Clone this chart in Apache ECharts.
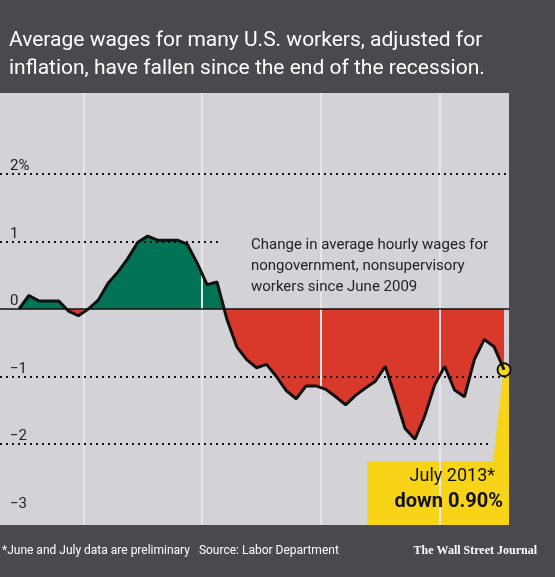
<!DOCTYPE html><html><head><meta charset="utf-8">
<script src="https://cdn.jsdelivr.net/npm/echarts@6/dist/echarts.min.js"></script>
<style>html,body{margin:0;padding:0;background:#4a494e}#c{width:555px;height:577px}</style></head><body><div id="c"></div>
<script>
const months = ['Jun 2009','Jul','Aug','Sep','Oct','Nov','Dec','Jan 2010','Feb','Mar','Apr','May','Jun','Jul','Aug','Sep','Oct','Nov','Dec','Jan 2011','Feb','Mar','Apr','May','Jun','Jul','Aug','Sep','Oct','Nov','Dec','Jan 2012','Feb','Mar','Apr','May','Jun','Jul','Aug','Sep','Oct','Nov','Dec','Jan 2013','Feb','Mar','Apr','May','Jun','Jul 2013'];
const wageChange = [0,0.2,0.12,0.12,0.12,-0.03,-0.1,0.0,0.13,0.38,0.55,0.75,0.99,1.08,1.02,1.02,1.02,0.96,0.68,0.36,0.4,-0.15,-0.56,-0.75,-0.87,-0.82,-1.0,-1.21,-1.33,-1.14,-1.14,-1.19,-1.3,-1.42,-1.28,-1.17,-1.07,-0.85,-1.3,-1.77,-1.93,-1.58,-1.12,-0.85,-1.2,-1.3,-0.75,-0.45,-0.56,-0.90];
const yearLabels = ['2009',"'10","'11","'12","'13"];
const yearBoundaries = [6.5,18.5,30.5,42.5];
const yearCenters = [2.3,12.5,24.5,36.5,46];
const yTicks = [-3,-2,-1,0,1,2];
const dottedLevels = [2,1,-1,-2];

const data = wageChange.map((v,i)=>[i,v]);
const chart = echarts.init(document.getElementById('c'));
const X0=-1.92, X1=49.5;
// zero line pixel: grid top 93, height 432, range -3.2..3.2
const zeroFrac = (93 + 432/2)/577;
chart.setOption({
  backgroundColor:'#4a494e',
  animation:false,
  title:{text:'Average wages for many U.S. workers, adjusted for\ninflation, have fallen since the end of the recession.',left:4,top:22,
    textStyle:{color:'#fff',fontFamily:'Roboto',fontWeight:'normal',fontSize:21,lineHeight:28}},
  grid:{left:0,right:46,top:93,bottom:52,show:true,backgroundColor:'#d3d2d6',borderWidth:0},
  xAxis:{type:'value',min:X0,max:X1,axisLine:{show:false},axisTick:{show:false},axisLabel:{show:false},splitLine:{show:false}},
  yAxis:{type:'value',min:-3.2,max:3.2,axisLine:{show:false},axisTick:{show:false},splitLine:{show:false},
    axisLabel:{inside:true,customValues:yTicks,verticalAlign:'bottom',margin:10,color:'#222',fontFamily:'Roboto',fontSize:15,
      formatter:v=>v===2?'2%':(v<0?'\u2212'+Math.abs(v):String(v))}},
  series:[
    {type:'line',data:data,symbol:'none',lineStyle:{width:0},z:2,
      areaStyle:{opacity:1,color:{type:'linear',x:0,y:0,x2:0,y2:577,global:true,
        colorStops:[{offset:0,color:'#027455'},{offset:zeroFrac,color:'#027455'},{offset:zeroFrac,color:'#d9392b'},{offset:1,color:'#d9392b'}]}},
      markLine:{silent:true,symbol:'none',label:{show:false},
        data:yearBoundaries.map(x=>({xAxis:x,lineStyle:{color:'#e6e6e8',width:2,type:'solid'}}))}},
    {type:'line',data:data,symbol:'none',lineStyle:{color:'#111',width:3},z:5,
      markLine:{silent:true,symbol:'none',label:{show:false},
        data:[
          [{coord:[X0,0],lineStyle:{color:'#111',width:1.5,type:'solid'}},{coord:[X1,0]}],
          ...dottedLevels.map(l=>[{coord:[X0,l],lineStyle:{color:'#111',width:2,type:[2,4]}},{coord:[l===1?20.5:(l===-2?47.5:X1),l]}])
        ]},
      markPoint:{symbol:'circle',symbolSize:13,itemStyle:{color:'#f5d71c',borderColor:'#111',borderWidth:2},label:{show:false},
        data:[{coord:[49,-0.90]}]}},
    {type:'scatter',data:yearCenters.map(x=>[x,2.95]),symbolSize:1,itemStyle:{opacity:0},silent:true,
      label:{show:true,position:'inside',formatter:p=>yearLabels[p.dataIndex],color:'#222',fontFamily:'Roboto',fontSize:15}}
  ],
  graphic:[
    {type:'polygon',z:1,shape:{points:[[367,461],[493,461],[503,376],[509,376],[509,525],[367,525]]},style:{fill:'#f7d417'}},
    {type:'text',z:10,right:60,top:467,style:{text:'July 2013*',fill:'#111',font:'18px Roboto'}},
    {type:'text',z:10,right:52,top:492,style:{text:'down 0.90%',fill:'#111',font:'bold 20px Roboto'}},
    {type:'text',z:10,left:251,top:235,style:{text:'Change in average hourly wages for\nnongovernment, nonsupervisory\nworkers since June 2009',fill:'#222',font:'15px Roboto',lineHeight:21}},
    {type:'text',left:2,top:545,style:{text:'*June and July data are preliminary   Source: Labor Department',fill:'#fff',font:'12px "Liberation Sans Narrow", Roboto'}},
    {type:'text',right:18,top:545,style:{text:'The Wall Street Journal',fill:'#fff',font:'bold 12px "Liberation Serif"'}}
  ]
});
</script></body></html>
